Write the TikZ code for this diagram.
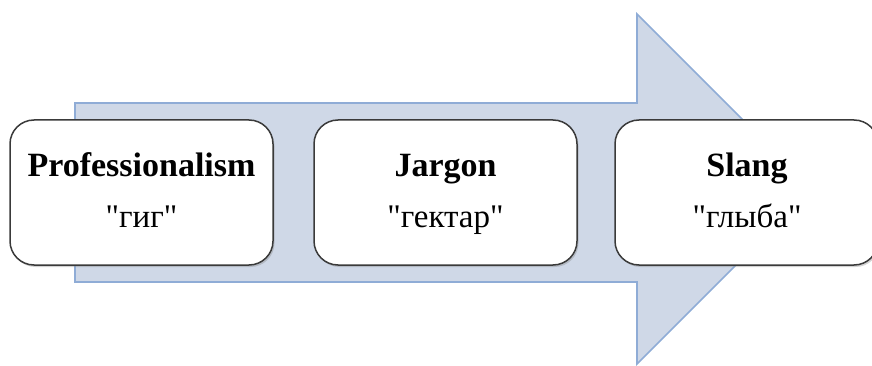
\documentclass[tikz,border=0pt]{standalone}
\usepackage{fontspec}
\setmainfont[Ligatures=TeXOff]{Liberation Serif}
\usetikzlibrary{shadows}
\definecolor{arrowfill}{HTML}{CFD8E7}
\definecolor{arrowline}{HTML}{8FACD6}
\definecolor{boxline}{HTML}{3A3A3A}
\tikzset{
  bigarrow/.style={fill=arrowfill, draw=arrowline, line width=1.6pt, line join=miter},
  stagebox/.style={draw=boxline, line width=1.5pt, fill=white, rounded corners=24pt,
    minimum width=263pt, minimum height=145pt, inner sep=0pt,
    drop shadow={opacity=0.35, shadow xshift=1.5pt, shadow yshift=-2pt}},
  titletext/.style={anchor=base, font=\fontsize{34}{38}\selectfont\bfseries, inner sep=0pt},
  wordtext/.style={anchor=base, font=\fontsize{33}{38}\selectfont, inner sep=0pt}
}
\begin{document}
\begin{tikzpicture}[x=1pt, y=-1pt]
\useasboundingbox (0,0) rectangle (872,366);
\begin{scope}
\clip (0,0) rectangle (872,366);
\draw[bigarrow] (75,103) -- (637,103) -- (637,14) -- (812,189) -- (637,364) -- (637,282) -- (75,282) -- cycle;
\node[stagebox] (b1) at (141.5,192.5) {};
\node[stagebox] (b2) at (445.5,192.5) {};
\node[stagebox] (b3) at (746.5,192.5) {};
\end{scope}
\node[titletext] (t1) at (141.5,177) {Professionalism};
\node[wordtext] (w1) at (141.5,227) {"гиг"};
\node[titletext] (t2) at (445.5,177) {Jargon};
\node[wordtext] (w2) at (445.5,227) {"гектар"};
\node[titletext] (t3) at (747,177) {Slang};
\node[wordtext] (w3) at (747,227) {"глыба"};
\end{tikzpicture}
\end{document}
